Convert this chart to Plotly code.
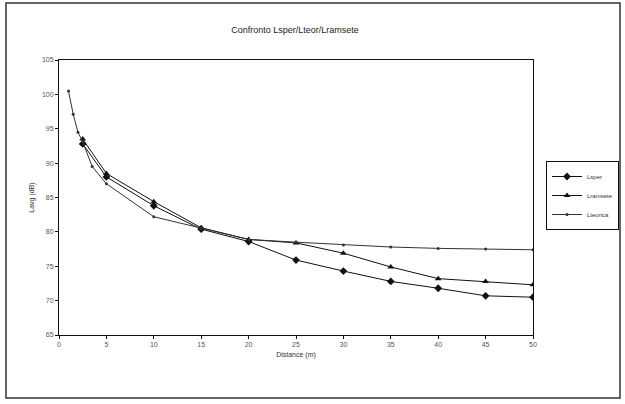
import plotly.graph_objects as go

# Data
x_teor = [1, 1.5, 2, 2.5, 3.5, 5, 10, 15, 20, 25, 30, 35, 40, 45, 50]
y_teor = [100.5, 97.1, 94.5, 93.1, 89.5, 87.0, 82.2, 80.5, 78.9, 78.5, 78.1, 77.8, 77.6, 77.5, 77.4]

x_sper = [2.5, 5, 10, 15, 20, 25, 30, 35, 40, 45, 50]
y_sper = [92.8, 88.0, 83.8, 80.4, 78.6, 75.9, 74.3, 72.8, 71.8, 70.7, 70.5]

x_ram = [2.5, 5, 10, 15, 20, 25, 30, 35, 40, 45, 50]
y_ram = [93.5, 88.5, 84.4, 80.6, 78.9, 78.4, 76.9, 74.9, 73.2, 72.8, 72.3]

x_ticks = [0, 5, 10, 15, 20, 25, 30, 35, 40, 45, 50]
y_ticks = [65, 70, 75, 80, 85, 90, 95, 100, 105]

title = "Confronto Lsper/Lteor/Lramsete"
names = ["Lsper", "Lramsete", "Lteorica"]

fig = go.Figure()
fig.add_trace(go.Scatter(x=x_sper, y=y_sper, name=names[0], mode="lines+markers",
                         line=dict(color="#111", width=1),
                         marker=dict(symbol="diamond", size=6, color="#111")))
fig.add_trace(go.Scatter(x=x_ram, y=y_ram, name=names[1], mode="lines+markers",
                         line=dict(color="#111", width=1),
                         marker=dict(symbol="triangle-up", size=6, color="#111")))
fig.add_trace(go.Scatter(x=x_teor, y=y_teor, name=names[2], mode="lines+markers",
                         line=dict(color="#333", width=1),
                         marker=dict(symbol="circle", size=3, color="#333")))

axis_common = dict(showgrid=False, zeroline=False, showline=True, linecolor="#111",
                   linewidth=1, ticks="outside", ticklen=3, tickcolor="#111",
                   tickfont=dict(family="Arial, Liberation Sans", size=7, color="#555"))

fig.update_layout(
    width=625, height=404,
    paper_bgcolor="white", plot_bgcolor="white",
    margin=dict(l=59, r=92, t=60, b=69, autoexpand=False),
    title=dict(text=title, x=0.498, xref="paper", y=(404 - 30) / 404, yanchor="middle",
               font=dict(family="Arial, Liberation Sans", size=9, color="#222")),
    xaxis=dict(range=[0, 50], tickvals=x_ticks, mirror=True,
               title=dict(text="Distance (m)", standoff=4,
                          font=dict(family="Arial, Liberation Sans", size=7, color="#333")),
               **axis_common),
    yaxis=dict(range=[65, 105], tickvals=y_ticks, mirror=True,
               title=dict(text="Lavg (dB)", standoff=6,
                          font=dict(family="Arial, Liberation Sans", size=7, color="#333")),
               **axis_common),
    legend=dict(x=(546 - 59) / 474, y=(335 - 195.5) / 275, xanchor="left", yanchor="middle",
                bordercolor="#111", borderwidth=1, bgcolor="white",
                font=dict(family="Arial, Liberation Sans", size=6, color="#333"),
                itemwidth=30, tracegroupgap=0),
    showlegend=True,
)

# outer chart border
fig.add_shape(type="rect", xref="paper", yref="paper",
              x0=(6 - 59) / 474, x1=(620 - 59) / 474,
              y0=(335 - 398) / 275, y1=(335 - 3) / 275,
              line=dict(color="#333", width=1.5), layer="below")

fig.write_html("out.html")
